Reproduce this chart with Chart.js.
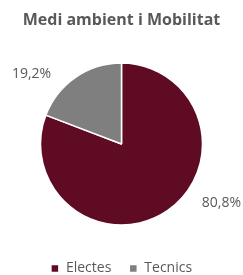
<!DOCTYPE html>
<html>
<head>
<meta charset="utf-8">
<script src="https://cdn.jsdelivr.net/npm/chart.js@4"></script>
<style>
  html, body { margin: 0; padding: 0; background: #fff; }
  #wrap { width: 243px; height: 275px; }
</style>
</head>
<body>
<div id="wrap"><canvas id="pie"></canvas></div>
<script>
const categories = ['Electes', 'Tecnics']
const values = [80.8, 19.2]
const valueLabels = ['80,8%', '19,2%']
const colors = ['#5f0b24', '#7f7f7f']

// draws the percentage labels outside each slice
const outLabels = {
    id: 'outLabels',
    afterDatasetsDraw(chart, args, opts) {
        const ctx = chart.ctx
        const meta = chart.getDatasetMeta(0)
        ctx.save()
        ctx.font = '14px "Open Sans"'
        ctx.fillStyle = '#595959'
        ctx.textAlign = 'center'
        ctx.textBaseline = 'middle'
        meta.data.forEach((arc, i) => {
            const p = arc.getProps(['x', 'y', 'startAngle', 'endAngle', 'outerRadius'], true)
            const a = (p.startAngle + p.endAngle) / 2 + opts.shift[i]
            const r = p.outerRadius + opts.dist[i]
            ctx.fillText(valueLabels[i], p.x + Math.cos(a) * r, p.y + Math.sin(a) * r)
        })
        ctx.restore()
    }
}

new Chart(document.querySelector('#pie'), {
    type: 'pie',
    data: {
        labels: categories,
        datasets: [{
            data: values,
            backgroundColor: colors,
            borderColor: '#fff',
            borderWidth: 1.5,
        }]
    },
    options: {
        responsive: true,
        maintainAspectRatio: false,
        animation: false,
        radius: 81,
        layout: { padding: { left: 0, right: 0, top: 0, bottom: -10.5 } },
        plugins: {
            title: {
                display: true,
                text: 'Medi ambient i Mobilitat',
                color: '#595959',
                font: { family: 'Open Sans', size: 16, weight: 'bold' },
                padding: { top: 10.4, bottom: 14.9 }
            },
            legend: {
                position: 'bottom',
                labels: {
                    color: '#595959',
                    font: { family: 'Open Sans', size: 14 },
                    boxWidth: 8,
                    boxHeight: 8,
                    padding: 18,
                }
            },
            tooltip: { enabled: false },
            outLabels: {
                shift: [-0.435, -0.306],
                dist: [35, 33]
            }
        }
    },
    plugins: [outLabels]
})
</script>
</body>
</html>
